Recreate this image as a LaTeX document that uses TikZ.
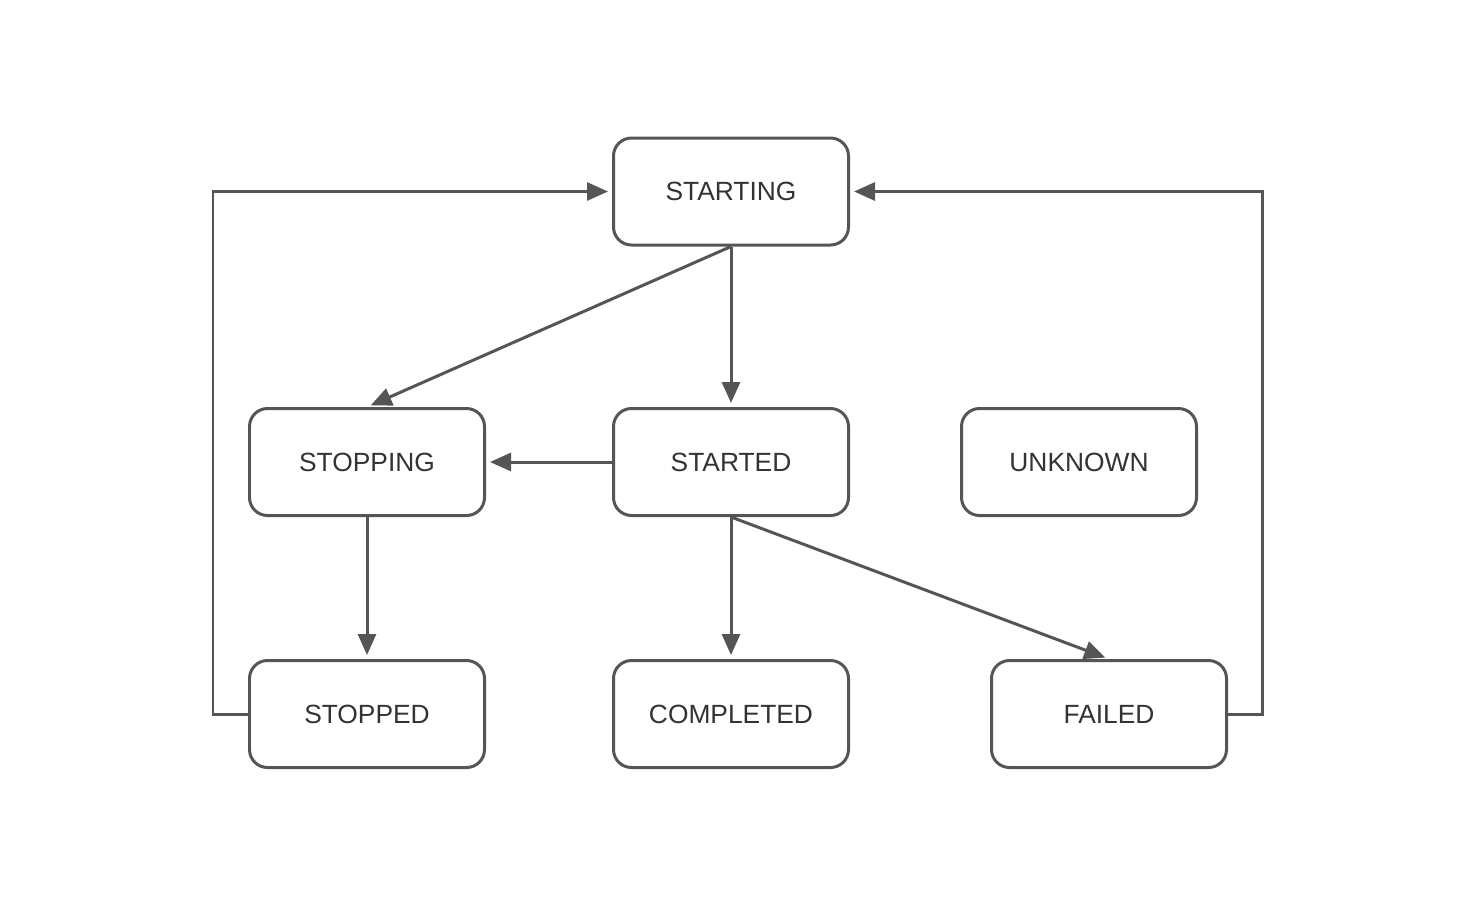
\documentclass[tikz,border=0pt]{standalone}
\usepackage{fontspec}
\setmainfont{Liberation Sans}
\usetikzlibrary{arrows.meta,positioning}
\definecolor{edgegray}{HTML}{555555}
\definecolor{textgray}{HTML}{333333}
\begin{document}
\begin{tikzpicture}[
            font=\fontsize{15}{18}\selectfont,
            state/.style={draw=edgegray, line width=1.7pt, rounded corners=3.6mm, align=center, minimum height=21.4mm, minimum width=47mm, text=textgray, fill=white},
            arrow/.style={-{Triangle[length=4.2mm, width=3.6mm]}, line width=1.7pt, draw=edgegray, shorten >=0.8mm}
        ]
            \useasboundingbox (0,0) rectangle (29.6,-18.2);
            \node[state] (starting) at (14.62,-3.83) {STARTING};
            \node[state] (stopping) at (7.34,-9.24) {STOPPING};
            \node[state] (started) at (14.62,-9.24) {STARTED};
            \node[state] (unknown) at (21.58,-9.24) {UNKNOWN};
            \node[state] (stopped) at (7.34,-14.28) {STOPPED};
            \node[state] (completed) at (14.62,-14.28) {COMPLETED};
            \node[state] (failed) at (22.18,-14.28) {FAILED};

            \draw[arrow] (starting.south) -- (stopping.north);
            \draw[arrow] (starting) -- (started);
            \draw[arrow] (started) -- (stopping);
            \draw[arrow] (stopping) -- (stopped);
            \draw[arrow] (started) -- (completed);
            \draw[arrow] (started.south) -- (failed.north);

            % retry loops back to STARTING
            \draw[arrow] (stopped.west) -- (4.26,-14.28) |- (starting.west);
            \draw[arrow] (failed.east) -- (25.24,-14.28) |- (starting.east);
        \end{tikzpicture}
\end{document}
